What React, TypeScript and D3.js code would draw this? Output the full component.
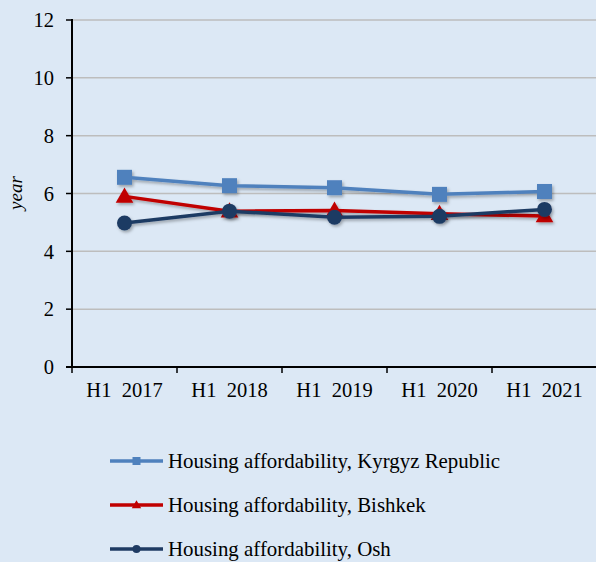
import React from "react";
import * as d3 from "d3";

const categories = ["H1  2017", "H1  2018", "H1  2019", "H1  2020", "H1  2021"];
const kyrgyz = [6.56, 6.27, 6.2, 5.97, 6.07];
const bishkek = [5.9, 5.39, 5.41, 5.3, 5.22];
const osh = [4.98, 5.39, 5.18, 5.21, 5.45];
const yTicks = [0, 2, 4, 6, 8, 10, 12];
const seriesNames = [
  "Housing affordability, Kyrgyz Republic",
  "Housing affordability, Bishkek",
  "Housing affordability, Osh",
];
const seriesColors = ["#4f81bd", "#c00000", "#1f3b63"];
const seriesMarkers = ["square", "triangle", "circle"];

const W = 596;
const H = 562;
const left = 72;
const right = 597;
const top = 20;
const bottom = 367;
const FONT = "'Liberation Serif', 'Times New Roman', serif";

function Marker({ type, x, y, size, color }: { type: string; x: number; y: number; size: number; color: string }) {
  if (type === "square") {
    return <rect x={x - size / 2} y={y - size / 2} width={size} height={size} fill={color} />;
  }
  if (type === "circle") {
    return <circle cx={x} cy={y} r={size / 2} fill={color} />;
  }
  const sym = d3.symbol().type(d3.symbolTriangle).size(size * size * 0.6)();
  return <path d={sym || ""} transform={`translate(${x},${y + size * 0.08})`} fill={color} />;
}

export default function App() {
  const x = d3.scaleBand<string>().domain(categories).range([left, right]).padding(0);
  const y = d3.scaleLinear().domain([0, 12]).range([bottom, top]);
  const data = [kyrgyz, bishkek, osh];
  const line = d3
    .line<number>()
    .x((_, i) => (x(categories[i]) as number) + x.bandwidth() / 2)
    .y((d) => y(d));
  const tickXs = categories.map((c) => x(c) as number).concat([right]);

  return (
    <svg
      width={W}
      height={H}
      style={{ position: "absolute", left: 0, top: 0, display: "block" }}
      fontFamily={FONT}
    >
      <defs>
        <filter id="sh" x="-20%" y="-50%" width="140%" height="200%">
          <feDropShadow dx="1.5" dy="2" stdDeviation="1.5" floodColor="#000" floodOpacity="0.3" />
        </filter>
      </defs>
      <rect x={0} y={0} width={W} height={H} fill="#dce8f5" />
      {yTicks.slice(1).map((t) => (
        <line key={t} x1={left} x2={W} y1={y(t)} y2={y(t)} stroke="#bdbdbd" strokeWidth={1.5} />
      ))}
      {yTicks.map((t) => (
        <g key={"yt" + t}>
          <line x1={left - 6} x2={left} y1={y(t)} y2={y(t)} stroke="#000" strokeWidth={1.5} />
          <text x={left - 18} y={y(t)} dy="0.35em" textAnchor="end" fontSize={20.5} fill="#000">
            {t}
          </text>
        </g>
      ))}
      <line x1={left} x2={left} y1={top - 1} y2={bottom} stroke="#000" strokeWidth={2} />
      <line x1={left - 6} x2={W} y1={bottom} y2={bottom} stroke="#000" strokeWidth={2} />
      {tickXs.map((tx, i) => (
        <line key={"xt" + i} x1={tx} x2={tx} y1={bottom} y2={bottom + 6} stroke="#000" strokeWidth={1.5} />
      ))}
      {categories.map((c) => (
        <text
          key={c}
          x={(x(c) as number) + x.bandwidth() / 2}
          y={397}
          textAnchor="middle"
          fontSize={20.5}
          fill="#000"
          style={{ whiteSpace: "pre" }}
        >
          {c}
        </text>
      ))}
      <text
        transform={`translate(22,193) rotate(-90)`}
        textAnchor="middle"
        fontSize={19}
        fontStyle="italic"
        fill="#000"
      >
        year
      </text>
      {data.map((s, si) => (
        <g key={"s" + si} filter="url(#sh)">
          <path d={line(s) || ""} fill="none" stroke={seriesColors[si]} strokeWidth={3.5} />
          {s.map((v, i) => (
            <Marker
              key={i}
              type={seriesMarkers[si]}
              x={(x(categories[i]) as number) + x.bandwidth() / 2}
              y={y(v)}
              size={15}
              color={seriesColors[si]}
            />
          ))}
        </g>
      ))}
      {seriesNames.map((n, i) => {
        const ly = 461 + i * 44;
        return (
          <g key={n}>
            <line x1={110} x2={163} y1={ly} y2={ly} stroke={seriesColors[i]} strokeWidth={3.5} />
            <Marker type={seriesMarkers[i]} x={136.5} y={ly} size={8} color={seriesColors[i]} />
            <text x={168} y={ly} dy="0.33em" fontSize={20.9} fill="#000">
              {n}
            </text>
          </g>
        );
      })}
    </svg>
  );
}
